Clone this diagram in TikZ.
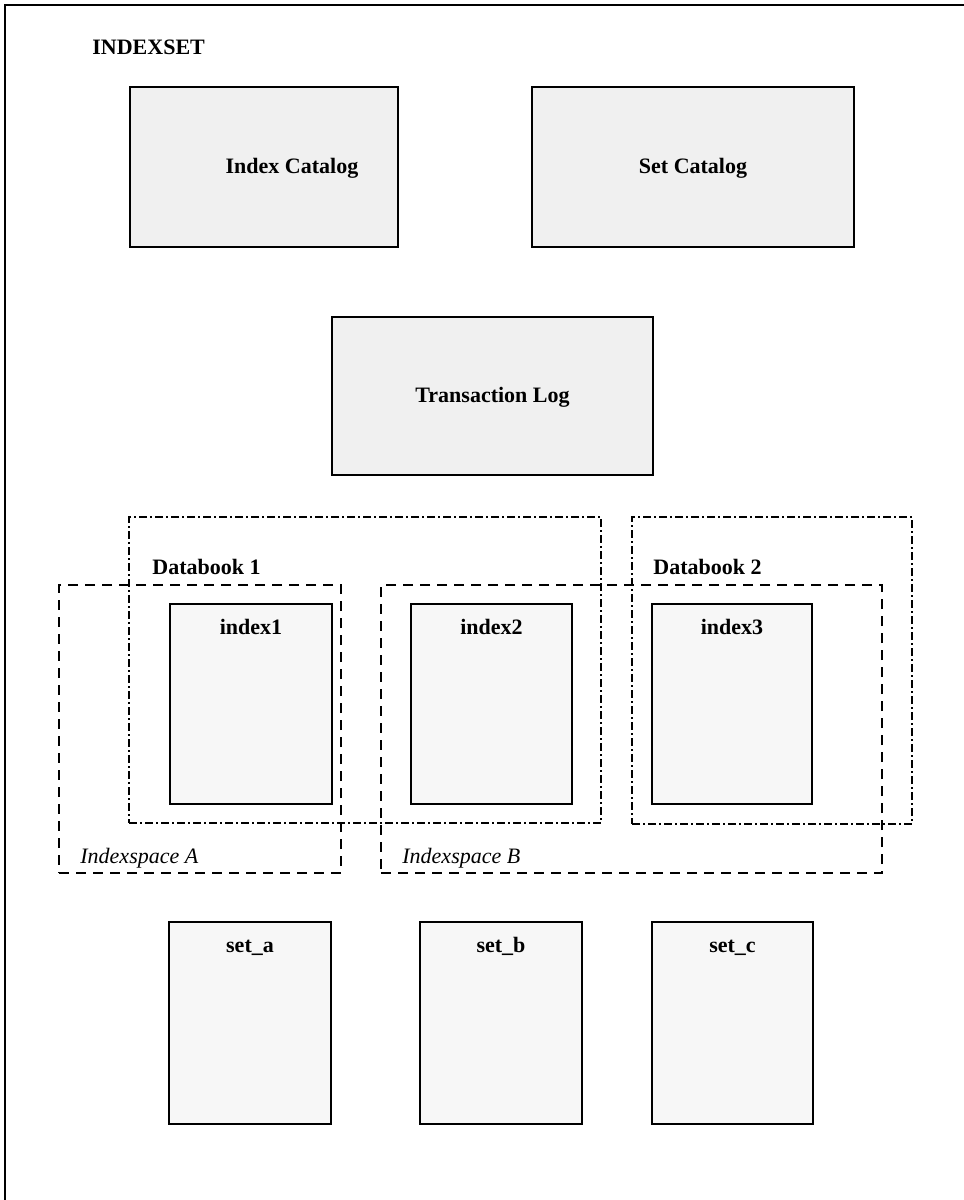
\documentclass[tikz,border=0pt]{standalone}
\usepackage{fontspec}
\setmainfont{Liberation Serif}
\begin{document}
\begin{tikzpicture}[x=0.5pt,y=-0.5pt,
  frame/.style={line width=1pt},
  block/.style={draw, line width=0.9pt, fill=black!6, inner sep=0pt},
  pagebox/.style={draw, line width=0.9pt, fill=black!3, inner sep=0pt,
    minimum width=81pt, minimum height=100pt},
  bookbox/.style={draw, line width=0.8pt, inner sep=0pt,
    dash pattern=on 4pt off 1.6pt on 0.8pt off 1.6pt},
  spacebox/.style={draw, line width=0.8pt, inner sep=0pt,
    dash pattern=on 5pt off 3.5pt},
  title/.style={font=\fontsize{11}{13}\selectfont\bfseries, inner sep=0pt},
  slabel/.style={font=\fontsize{11}{13}\selectfont\itshape, inner sep=0pt}]
\useasboundingbox (0,0) rectangle (964,1200);

% outer frame (top and left edges)
\coordinate (fbl) at (5,1200);
\coordinate (ftl) at (5,5);
\coordinate (ftr) at (964,5);
\draw[frame] (fbl) -- (ftl) -- (ftr);
\node[title, anchor=west] (setname) at (92,47) {INDEXSET};

% catalogs and log
\node[block, minimum width=134pt, minimum height=80pt] (icat) at (264,167) {};
\node[title] (icatl) at (292,168) {Index Catalog};
\node[block, minimum width=161pt, minimum height=80pt] (scat) at (693,167) {};
\node[title] (scatl) at (693,168) {Set Catalog};
\node[block, minimum width=160.5pt, minimum height=79pt] (tlog) at (492.5,396) {};
\node[title] (tlogl) at (492.5,397) {Transaction Log};

% indexspaces (dashed)
\node[spacebox, minimum width=141pt, minimum height=144pt] (isA) at (200,729) {};
\node[spacebox, minimum width=250.5pt, minimum height=144pt] (isB) at (631.5,729) {};
\node[slabel, anchor=base west] (isAl) at (80,863) {Indexspace A};
\node[slabel, anchor=base west] (isBl) at (402,863) {Indexspace B};

% databooks (dash-dotted)
\node[bookbox, minimum width=236pt, minimum height=153pt] (db1) at (365,670) {};
\node[bookbox, minimum width=140pt, minimum height=153.5pt] (db2) at (772,670.5) {};
\node[title, anchor=west] (db1l) at (152,567) {Databook 1};
\node[title, anchor=west] (db2l) at (653,567) {Databook 2};

% indexes
\node[pagebox] (ix1) at (251,704) {};
\node[pagebox, minimum width=80.5pt] (ix2) at (491.5,704) {};
\node[pagebox, minimum width=80pt] (ix3) at (732,704) {};
\node[title] (ix1l) at (251,627) {index1};
\node[title] (ix2l) at (491.5,627) {index2};
\node[title] (ix3l) at (732,627) {index3};

% sets
\node[pagebox, minimum height=101pt] (sa) at (250,1023) {};
\node[pagebox, minimum height=101pt] (sb) at (501,1023) {};
\node[pagebox, minimum width=80.5pt, minimum height=101pt] (sc) at (732.5,1023) {};
\node[title, anchor=base] (sal) at (250,952) {set\_a};
\node[title, anchor=base] (sbl) at (501,952) {set\_b};
\node[title, anchor=base] (scl) at (732.5,952) {set\_c};
\end{tikzpicture}
\end{document}
